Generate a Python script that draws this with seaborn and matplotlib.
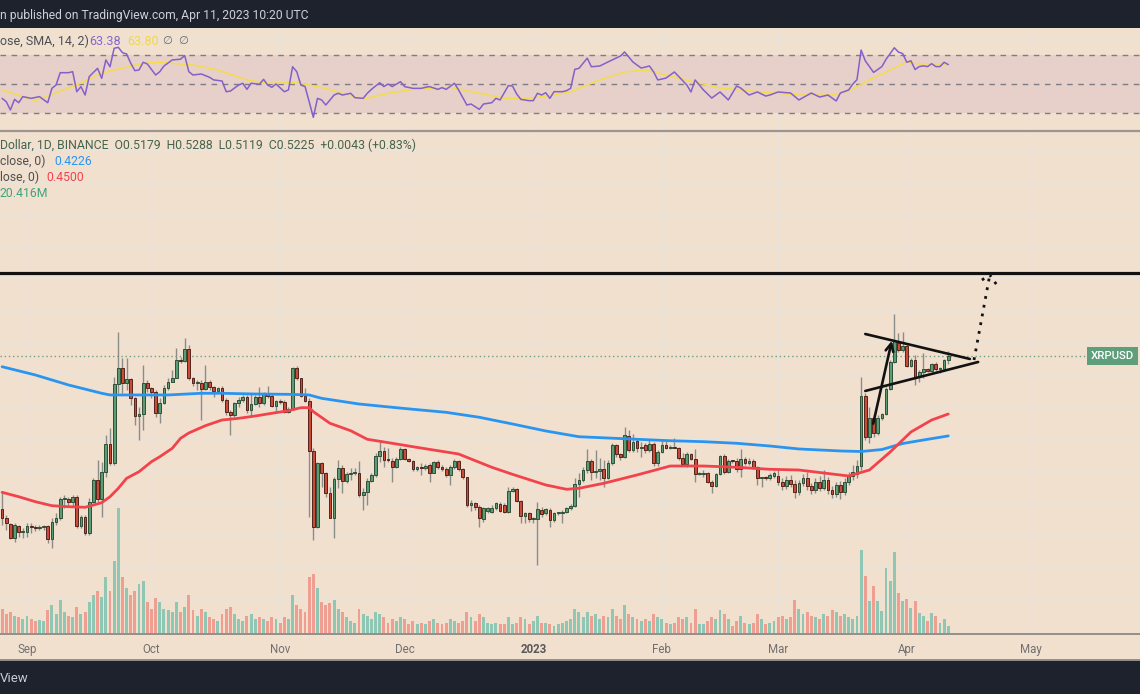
import numpy as np
import pandas as pd
import matplotlib
matplotlib.use("Agg")
import matplotlib.pyplot as plt
import matplotlib.dates as mdates
from matplotlib.lines import Line2D
import seaborn as sns

sns.set_theme(style="white")
plt.rcParams['font.family'] = ['Roboto', 'DejaVu Sans']

# ---------------- data (XRP daily) ----------------
START = "2022-08-26"
opens = [0.3309,0.3196,0.3125,0.2954,0.3104,0.3021,0.3029,0.3104,0.3091,0.3071,0.3091,0.3104,0.2938,0.3154,
 0.3204,0.3434,0.3438,0.3404,0.3466,0.3100,0.3216,0.3009,0.3404,0.3675,0.3438,
 0.3779,0.4125,0.3891,0.4871,0.5071,0.4891,0.4934,0.4704,0.4475,0.4500,
 0.4891,0.4821,0.4779,0.4509,0.4641,0.4821,0.4904,0.4954,0.5175,0.5168,0.5309,0.4954,0.4884,0.4891,0.4813,
 0.4904,0.4834,0.4788,0.4821,0.4675,0.4521,0.4488,0.4634,0.4681,0.4709,0.4550,0.4625,0.4709,0.4634,0.4759,0.4725,0.4604,0.4663,0.4654,0.4521,
 0.4563,0.5071,0.4946,0.4729,0.4666,0.4038,0.3091,0.3884,0.3759,0.3509,0.3204,0.3684,0.3821,0.3663,0.3746,0.3759,0.3766,0.3488,0.3521,0.3663,0.3738,0.3979,0.4041,0.3925,
 0.3916,0.3834,0.3938,0.4059,0.3934,0.3916,0.3815,0.3834,0.3830,0.3863,0.3766,0.3904,0.3834,0.3809,0.3738,0.3834,0.3916,0.3809,0.3709,0.3363,
 0.3391,0.3341,0.3184,0.3291,0.3279,0.3329,0.3375,0.3359,0.3279,0.3541,0.3559,0.3416,0.3229,0.3259,0.3184,0.3188,0.3300,0.3259,0.3300,0.3175,
 0.3259,0.3259,0.3279,0.3321,0.3350,0.3625,
 0.3675,0.3800,0.3913,0.3779,0.3791,0.3809,0.3704,0.3884,0.4113,0.4000,0.3966,0.4225,0.4050,0.4163,0.4071,0.4113,0.4050,0.4121,0.3884,0.4029,0.4113,
 0.4079,0.4091,0.4079,0.3946,0.3871,0.4000,0.3938,0.3750,0.3750,0.3759,0.3654,0.3604,0.3750,0.3975,0.3779,0.3913,0.3909,0.3809,0.3938,0.3884,0.3913,0.3834,0.3704,0.3709,0.3700,0.3725,
 0.3725,0.3650,0.3600,0.3675,0.3625,0.3525,0.3638,0.3700,0.3600,0.3550,0.3650,0.3575,0.3675,0.3550,0.3500,0.3613,0.3525,0.3650,0.3725,0.3750,
 0.3850,0.4729,0.4216,0.4454,0.4266,0.4446,0.4500,0.4809,0.5146,0.5384,0.5300,0.5350,0.5100,0.5175,0.4966,0.5029,0.5059,0.5041,0.5125,0.5059,0.5063,0.5179]
highs = [0.3509,0.3238,0.3141,0.3134,0.3113,0.3071,0.3134,0.3134,0.3113,0.3110,0.3113,0.3113,0.3196,0.3259,
 0.3466,0.3488,0.3466,0.3488,0.3488,0.3238,0.3238,0.3446,0.3696,0.3925,0.3904,
 0.4238,0.4321,0.4966,0.5529,0.5196,0.5196,0.4946,0.4716,0.4591,0.5113,
 0.4925,0.4841,0.4800,0.4696,0.4863,0.4946,0.5050,0.5321,0.5216,0.5446,0.5363,0.4966,0.4925,0.4925,0.5113,
 0.4925,0.4850,0.4841,0.4850,0.4696,0.4550,0.4654,0.4716,0.4738,0.4738,0.4759,0.4738,0.4841,0.4779,0.4850,0.4759,0.4675,0.4691,0.4675,0.4591,
 0.5091,0.5100,0.4954,0.4821,0.4696,0.4071,0.3904,0.3904,0.3779,0.3591,0.3716,0.3925,0.3863,0.3779,0.3821,0.3821,0.3913,0.3571,0.3696,0.3759,0.4009,0.4175,0.4091,0.4071,
 0.3950,0.3963,0.4091,0.4075,0.3950,0.3925,0.3850,0.3888,0.3875,0.3891,0.3913,0.3925,0.3863,0.3834,0.3863,0.3934,0.3925,0.3825,0.3716,0.3425,
 0.3404,0.3363,0.3341,0.3341,0.3363,0.3404,0.3400,0.3384,0.3591,0.3584,0.3571,0.3425,0.3279,0.3279,0.3216,0.3404,0.3341,0.3321,0.3325,0.3279,
 0.3279,0.3300,0.3341,0.3375,0.3700,0.3763,
 0.3834,0.4059,0.3934,0.4050,0.3946,0.3925,0.3925,0.4134,0.4125,0.4016,0.4341,0.4300,0.4246,0.4200,0.4154,0.4134,0.4175,0.4154,0.4050,0.4175,0.4175,
 0.4113,0.4196,0.4091,0.4009,0.4029,0.4016,0.4059,0.3779,0.3800,0.3779,0.3675,0.3766,0.3988,0.4000,0.3934,0.3925,0.3946,0.4059,0.3966,0.3946,0.3934,0.3850,0.3716,0.3725,0.3766,0.3788,
 0.3800,0.3700,0.3725,0.3738,0.3675,0.3675,0.3750,0.3775,0.3638,0.3700,0.3725,0.3800,0.3713,0.3600,0.3650,0.3663,0.3700,0.3775,0.3863,0.3925,
 0.4963,0.4763,0.4591,0.4488,0.4488,0.4513,0.4841,0.5175,0.5750,0.5509,0.5529,0.5384,0.5196,0.5238,0.5050,0.5259,0.5075,0.5134,0.5146,0.5084,0.5184,0.5288]
lows = [0.3113,0.3050,0.2934,0.2904,0.2966,0.2946,0.2966,0.3009,0.3040,0.3050,0.3050,0.2884,0.2821,0.3113,
 0.3175,0.3321,0.3341,0.3341,0.3071,0.3071,0.2988,0.2988,0.3384,0.3404,0.3216,
 0.3716,0.3863,0.3863,0.4759,0.4759,0.4800,0.4613,0.4363,0.4175,0.4300,
 0.4779,0.4696,0.4466,0.4384,0.4625,0.4800,0.4904,0.4946,0.5134,0.5154,0.4925,0.4850,0.4800,0.4425,0.4800,
 0.4800,0.4716,0.4759,0.4654,0.4488,0.4238,0.4466,0.4591,0.4654,0.4509,0.4466,0.4613,0.4591,0.4613,0.4696,0.4584,0.4509,0.4621,0.4509,0.4509,
 0.4550,0.4925,0.4716,0.4654,0.3216,0.2925,0.3071,0.3591,0.3466,0.3196,0.2946,0.3571,0.3509,0.3634,0.3675,0.3738,0.3466,0.3300,0.3363,0.3654,0.3716,0.3904,0.3841,0.3904,
 0.3650,0.3825,0.3925,0.3925,0.3900,0.3791,0.3790,0.3738,0.3800,0.3654,0.3759,0.3813,0.3788,0.3716,0.3613,0.3809,0.3791,0.3684,0.3341,0.3291,
 0.3300,0.3091,0.3154,0.3259,0.3266,0.3300,0.3279,0.3266,0.3266,0.3529,0.3404,0.3134,0.3134,0.3154,0.3134,0.2613,0.3216,0.3238,0.3091,0.3154,
 0.3238,0.3138,0.3259,0.3300,0.3341,0.3466,
 0.3654,0.3759,0.3675,0.3696,0.3675,0.3591,0.3691,0.3863,0.3966,0.3925,0.3946,0.4029,0.4029,0.4029,0.3966,0.4009,0.4029,0.3850,0.3850,0.4009,0.4063,
 0.4063,0.4071,0.3925,0.3850,0.3841,0.3925,0.3654,0.3738,0.3716,0.3641,0.3516,0.3591,0.3738,0.3750,0.3759,0.3888,0.3779,0.3716,0.3863,0.3863,0.3809,0.3613,0.3591,0.3675,0.3675,0.3700,
 0.3613,0.3550,0.3563,0.3588,0.3450,0.3488,0.3600,0.3550,0.3500,0.3513,0.3538,0.3550,0.3500,0.3450,0.3463,0.3438,0.3488,0.3613,0.3675,0.3700,
 0.3800,0.4175,0.4134,0.4216,0.4238,0.4425,0.4488,0.4800,0.5134,0.5279,0.5279,0.5091,0.5084,0.4863,0.4904,0.4946,0.5025,0.5029,0.5041,0.5016,0.5041,0.5119]
closes = [0.3196,0.3134,0.2954,0.3113,0.3021,0.3029,0.3104,0.3091,0.3071,0.3091,0.3095,0.2938,0.3154,0.3204,
 0.3434,0.3438,0.3404,0.3466,0.3100,0.3216,0.3009,0.3404,0.3675,0.3438,0.3779,
 0.4125,0.3891,0.4871,0.5071,0.4891,0.4934,0.4704,0.4475,0.4500,0.4891,
 0.4821,0.4779,0.4509,0.4641,0.4821,0.4904,0.4954,0.5175,0.5168,0.5309,0.4954,0.4884,0.4891,0.4813,0.4904,
 0.4834,0.4788,0.4821,0.4675,0.4521,0.4488,0.4634,0.4675,0.4709,0.4550,0.4625,0.4709,0.4634,0.4759,0.4725,0.4604,0.4663,0.4654,0.4521,0.4563,
 0.5071,0.4946,0.4729,0.4666,0.4038,0.3091,0.3884,0.3759,0.3509,0.3204,0.3684,0.3821,0.3663,0.3746,0.3759,0.3771,0.3488,0.3521,0.3663,0.3738,0.3979,0.4041,0.3925,0.3921,
 0.3834,0.3938,0.4059,0.3934,0.3916,0.3809,0.3834,0.3830,0.3850,0.3766,0.3904,0.3834,0.3809,0.3738,0.3834,0.3916,0.3809,0.3709,0.3363,0.3391,
 0.3341,0.3196,0.3321,0.3321,0.3329,0.3391,0.3291,0.3279,0.3541,0.3559,0.3416,0.3229,0.3259,0.3184,0.3188,0.3309,0.3250,0.3309,0.3175,0.3259,
 0.3263,0.3279,0.3321,0.3350,0.3625,0.3675,
 0.3800,0.3913,0.3779,0.3791,0.3809,0.3704,0.3884,0.4113,0.4000,0.3966,0.4238,0.4050,0.4154,0.4071,0.4088,0.4050,0.4121,0.3884,0.4029,0.4113,0.4079,
 0.4091,0.4079,0.3946,0.3871,0.4000,0.3938,0.3750,0.3759,0.3766,0.3654,0.3604,0.3750,0.3975,0.3779,0.3913,0.3909,0.3809,0.3938,0.3891,0.3913,0.3834,0.3704,0.3709,0.3704,0.3738,0.3763,
 0.3650,0.3600,0.3675,0.3625,0.3525,0.3638,0.3700,0.3600,0.3550,0.3650,0.3575,0.3675,0.3550,0.3500,0.3613,0.3525,0.3650,0.3725,0.3775,0.3850,
 0.4725,0.4216,0.4454,0.4266,0.4446,0.4500,0.4809,0.5146,0.5416,0.5300,0.5350,0.5100,0.5175,0.4966,0.5029,0.5059,0.5041,0.5125,0.5059,0.5063,0.5175,0.5225]
volumes_m = [70,55,60,50,45,40,50,40,35,38,35,65,80,55,
 95,60,50,45,75,55,60,90,110,120,105,
 162,120,206,360,160,130,110,120,140,150,
 90,70,100,90,70,65,60,90,60,75,110,65,50,70,60,
 45,40,35,55,70,75,55,40,35,50,55,40,45,40,35,45,40,30,45,40,
 110,80,70,60,160,170,130,90,80,85,95,70,60,45,35,30,70,55,50,40,60,55,45,30,
 40,35,45,40,25,35,25,30,25,35,40,30,25,30,40,35,30,35,60,45,
 35,55,45,30,25,30,25,25,45,25,30,45,40,25,35,50,30,30,25,20,
 25,30,35,40,70,60,
 45,60,50,55,40,50,45,70,50,40,80,55,45,40,35,40,35,55,45,40,30,
 25,30,45,40,45,30,70,25,25,35,45,40,65,55,40,20,35,50,30,25,30,55,40,25,30,35,
 45,50,40,45,95,70,55,60,50,45,40,55,50,65,60,50,55,45,40,50,
 238,165,93,136,93,64,186,151,232,116,93,99,72,93,58,49,35,58,49,29,41,20.416]

# moving averages (day offset from START, value)
sma200_day = [0,8,16,24,26,32,40,48,53,61,69,74,77,86,94,99,107,115,123,131,139,153,161,169,177,185,192,202,207,212,217,222,228]
sma200_val = [0.5091,0.4988,0.4863,0.4759,0.4738,0.4738,0.4738,0.4759,0.4759,0.4750,0.4746,0.4738,0.4696,0.4625,0.4584,0.4559,
              0.4521,0.4459,0.4375,0.4288,0.4216,0.4184,0.4166,0.4154,0.4134,0.4100,0.4063,0.4038,0.4031,0.4056,0.4131,0.4175,0.4226]
sma50_day = [0,4,8,12,16,20,24,26,28,30,33,36,38,41,43,45,49,53,57,61,65,69,72,74,75,79,84,88,94,99,110,118,123,131,136,139,
             145,153,161,169,177,185,192,200,204,209,214,219,224,228]
sma50_val = [0.3521,0.3466,0.3404,0.3354,0.3341,0.3334,0.3391,0.3466,0.3571,0.3696,0.3779,0.3904,0.3966,0.4071,0.4196,0.4263,
             0.4354,0.4425,0.4446,0.4475,0.4509,0.4541,0.4579,0.4579,0.4529,0.4384,0.4291,0.4184,0.4134,0.4091,0.4000,0.3834,
             0.3746,0.3613,0.3559,0.3571,0.3634,0.3738,0.3850,0.3850,0.3834,0.3809,0.3800,0.3750,0.3725,0.3800,0.4025,0.4275,0.4425,0.4500]

# RSI (14) and its SMA
rsi_day = [0,1,2,3,4,5,7,9,11,12,13,14,16,17,18,19,20,21,23,24,25,26,27,28,29,30,31,32,33,34,35,37,38,39,41,43,44,45,46,48,50,51,53,54,55,
           57,58,59,60,62,63,64,65,66,68,69,70,71,72,73,74,75,76,77,78,80,81,82,84,85,87,88,89,91,92,93,94,96,97,99,101,102,103,105,106,107,
           109,110,112,113,115,116,118,119,120,122,123,124,125,127,128,129,130,131,132,133,135,136,137,138,139,141,142,144,146,149,150,152,
           154,156,157,158,160,162,165,166,167,169,171,173,175,177,178,180,182,184,185,187,190,192,195,197,199,201,202,204,205,206,207,208,
           209,210,211,212,213,214,215,216,217,218,219,220,221,222,223,224,225,226,227,228]
rsi_val = [40.1,37.8,32.1,39.4,37.1,41.3,40.1,41.3,37.1,47.0,49.3,57.8,57.8,58.5,44.7,48.2,42.4,55.1,60.8,53.9,66.6,61.9,74.6,75.3,71.6,
           70.7,64.3,59.2,59.7,65.0,63.8,56.2,58.5,62.4,66.6,67.1,69.6,58.5,56.2,56.9,54.6,52.8,52.1,44.7,45.1,
           49.3,50.5,46.3,50.5,49.8,53.2,49.3,47.7,50.0,44.7,45.9,61.9,58.5,49.3,48.2,37.8,27.0,40.1,39.0,35.5,42.4,43.6,42.4,43.6,40.6,
           40.1,43.6,46.3,50.9,48.2,50.0,48.2,51.6,48.2,47.0,47.0,47.7,48.2,46.3,47.5,46.3,
           50.5,45.9,35.5,36.2,32.5,36.2,37.1,40.1,39.0,48.9,48.6,43.1,39.4,38.5,38.5,43.6,42.4,44.0,40.1,44.7,44.7,45.4,47.0,60.1,60.8,
           67.8,61.9,62.4,65.2,69.3,72.1,65.2,
           61.0,62.4,58.3,52.8,54.1,58.3,49.3,44.5,52.8,45.9,40.3,44.5,39.0,48.6,47.2,42.4,44.5,41.7,42.4,44.5,43.8,39.0,43.8,41.0,42.4,
           38.3,43.8,45.9,50.0,53.0,73.4,66.0,
           62.0,58.0,60.0,62.0,67.0,71.0,75.0,72.0,71.0,65.0,66.0,60.0,62.0,62.5,62.0,64.0,62.0,62.0,65.0,63.38]
rsi_sma_day = [0,8,18,24,34,38,46,52,59,64,71,78,82,87,93,99,108,115,121,127,133,137,144,150,155,163,173,183,192,200,204,209,214,218,221,228]
rsi_sma_val = [45.9,38.5,49.3,57.6,64.3,65.0,63.1,59.7,52.8,50.5,50.9,47.0,43.6,39.4,43.6,46.3,47.7,43.6,40.1,40.1,42.4,44.7,52.8,
               58.3,59.7,54.1,47.2,44.5,42.4,42.4,45.2,52.8,59.7,65.2,63.8,63.8]

# drawn annotations (day offset, price)
resistance_level = 0.626
upper_tl = ([208.0, 233.2], [0.5500, 0.5188])
lower_tl = ([208.0, 235.2], [0.4788, 0.5150])
pole = ([209.9, 214.4], [0.4379, 0.5416])
projection = ([234.2, 238.0], [0.5175, 0.6238])
proj_wings = ([236.1, 238.0, 239.7], [0.6175, 0.6238, 0.6113])

month_labels = ["Sep", "Oct", "Nov", "Dec", "2023", "Feb", "Mar", "Apr", "May"]
last_price = closes[-1]

# ---------------- figure ----------------
W, H = 1140, 694
BG = '#F2E0CF'
DARK = '#1E222D'
GRID = '#EAE3DC'
fig = plt.figure(figsize=(W / 100, H / 100), dpi=100)
fig.patch.set_facecolor(BG)

def rect(top, bottom):
    return [0, 1 - bottom / H, 1, (bottom - top) / H]

day0 = mdates.date2num(pd.Timestamp(START))
n = len(closes)
dates = pd.date_range(START, periods=n, freq="D")
x = mdates.date2num(dates)
xlim = (day0 - 0.506, day0 + 274.2)
months = mdates.date2num(pd.date_range("2022-09-01", "2023-05-01", freq="MS"))

# top & bottom dark bars
ax_top = fig.add_axes(rect(0, 28))
ax_top.add_patch(plt.Rectangle((0, 0), 1, 1, color=DARK, transform=ax_top.transAxes))
ax_top.set_axis_off()
ax_bot = fig.add_axes(rect(660, 694))
ax_bot.add_patch(plt.Rectangle((0, 0), 1, 1, color=DARK, transform=ax_bot.transAxes))
ax_bot.set_axis_off()

# RSI pane
ax_r = fig.add_axes(rect(28, 130))
ax_r.set_facecolor(BG)
ax_r.set_xlim(*xlim)
ax_r.set_ylim(18.28, 88.62)
for m in months:
    ax_r.axvline(m, color=GRID, lw=1, zorder=0)
for lv in (40, 60, 80):
    ax_r.axhline(lv, color=GRID, lw=1, zorder=0)
ax_r.axhspan(30, 70, color='#E7D0CA', zorder=0.5, lw=0)
for lv in (70, 50, 30):
    ax_r.axhline(lv, color='#7E7C84', lw=1, ls=(0, (4, 4)), zorder=1)
sns.lineplot(x=day0 + np.array(rsi_sma_day), y=rsi_sma_val, ax=ax_r, color='#F4DC4C', lw=1.1, zorder=2)
sns.lineplot(x=day0 + np.array(rsi_day), y=rsi_val, ax=ax_r, color='#8460C8', lw=1.1, zorder=3)
ax_r.set_xticks([]); ax_r.set_yticks([])
ax_r.set_xlabel(""); ax_r.set_ylabel("")
for s in ax_r.spines.values():
    s.set_visible(False)

# main pane
ax = fig.add_axes(rect(131, 633))
ax.set_facecolor(BG)
ax.set_xlim(*xlim)
ax.set_ylim(0.17625, 0.80375)
for m in months:
    ax.axvline(m, color=GRID, lw=1, zorder=0)
for lv in np.arange(0.22, 0.80, 0.04):
    ax.axhline(lv, color=GRID, lw=1, zorder=0)

o = np.array(opens); c = np.array(closes); hi = np.array(highs); lo = np.array(lows)
up = c >= o
ax.vlines(x, lo, hi, colors='#8A8C88', lw=1.0, zorder=2)
body_bottom = np.minimum(o, c)
body_h = np.maximum(np.abs(c - o), 0.0012)
ax.bar(x[up], body_h[up], bottom=body_bottom[up], width=0.66, color='#5B9C74', edgecolor='#2E4F38', linewidth=0.7, zorder=3)
ax.bar(x[~up], body_h[~up], bottom=body_bottom[~up], width=0.66, color='#C94B38', edgecolor='#55231A', linewidth=0.7, zorder=3)

sns.lineplot(x=day0 + np.array(sma200_day), y=sma200_val, ax=ax, color='#2A95F0', lw=2.0, zorder=4)
sns.lineplot(x=day0 + np.array(sma50_day), y=sma50_val, ax=ax, color='#F2434C', lw=2.0, zorder=4)

# last price dotted line & label
ax.axhline(last_price, xmin=0, xmax=1086 / W, color='#6E9F84', lw=1, ls=(0, (1, 2)), zorder=1)
ax.annotate("XRPUSD", xy=(1134 / W, last_price), xycoords=('axes fraction', 'data'),
            ha='right', va='center', color='white', fontsize=8.2, fontweight='medium',
            bbox=dict(boxstyle='square,pad=0.32', fc='#5E9E7A', ec='none'), zorder=6)

# drawings
ink = '#121212'
ax.axhline(resistance_level, color=ink, lw=2.3, zorder=5)
ax.plot(day0 + np.array(upper_tl[0]), upper_tl[1], color=ink, lw=1.9, zorder=5, solid_capstyle='round')
ax.plot(day0 + np.array(lower_tl[0]), lower_tl[1], color=ink, lw=1.9, zorder=5, solid_capstyle='round')
ax.annotate('', xy=(day0 + pole[0][1], pole[1][1]), xytext=(day0 + pole[0][0], pole[1][0]),
            arrowprops=dict(arrowstyle='->', color=ink, lw=1.9, mutation_scale=14, shrinkA=0, shrinkB=0), zorder=5)
ax.plot(day0 + np.array(projection[0]), projection[1], color=ink, lw=2.0, ls=(0, (1, 2.2)), zorder=5)
ax.plot(day0 + np.array(proj_wings[0]), proj_wings[1], color=ink, lw=2.0, ls=(0, (1, 2.2)), zorder=5)

ax.set_xticks(months)
ax.set_xticklabels(month_labels)
ax.tick_params(axis='x', length=0, pad=7, labelsize=8.3, labelcolor='#707070')
for lab in ax.get_xticklabels():
    lab.set_family(['Liberation Sans Narrow', 'Roboto', 'DejaVu Sans'])
    if lab.get_text() == "2023":
        lab.set_fontweight('bold')
        lab.set_color('#5A5A5A')
ax.set_yticks([])
ax.set_xlabel(""); ax.set_ylabel("")
for s in ax.spines.values():
    s.set_visible(False)

# volume overlay
ax_v = ax.twinx()
ax_v.set_ylim(0, 1446)
vol = np.array(volumes_m)
ax_v.bar(x[up], vol[up], width=0.7, color='#8FC7B4', lw=0, zorder=1)
ax_v.bar(x[~up], vol[~up], width=0.7, color='#EF9F91', lw=0, zorder=1)
ax_v.set_yticks([]); ax_v.set_ylabel("")
for s in ax_v.spines.values():
    s.set_visible(False)

# pane separators
for yy, col, lw in ((130.5, '#9C9590', 1.6), (633.8, '#948E89', 1.4), (659.5, '#948E89', 1.4)):
    fig.add_artist(Line2D([0, 1], [1 - yy / H, 1 - yy / H], transform=fig.transFigure, color=col, lw=lw))

# texts
def ftext(px, py, s, **kw):
    fig.text(px / W, 1 - py / H, s, va='center', ha='left', **kw)

ftext(0, 15, "n published on TradingView.com, Apr 11, 2023 10:20 UTC", color='#CDD0D7', fontsize=8.7)
ftext(0, 678, "View", color='#C9CCD3', fontsize=9.5, family=['Liberation Sans Narrow', 'Roboto', 'DejaVu Sans'])

ftext(0, 41.5, "ose, SMA, 14, 2)", color='#4F4F4F', fontsize=9.0)
ftext(89, 41.5, "63.38", color='#8A63CC', fontsize=9.0)
ftext(127, 41.5, "63.80", color='#F2D64B', fontsize=9.0)
ftext(162, 41.5, "\u2205", color='#6A6A6A', fontsize=8.2, family=['DejaVu Sans'])
ftext(178, 41.5, "\u2205", color='#6A6A6A', fontsize=8.2, family=['DejaVu Sans'])

ftext(0, 145, "Dollar, 1D, BINANCE  O0.5179  H0.5288  L0.5119  C0.5225  +0.0043 (+0.83%)", color='#45644E', fontsize=8.85)
ftext(0, 161.5, "close, 0)", color='#4F4F4F', fontsize=8.85)
ftext(54, 161.5, "0.4226", color='#2A95F0', fontsize=8.85)
ftext(0, 177.5, "lose, 0)", color='#4F4F4F', fontsize=8.85)
ftext(46.5, 177.5, "0.4500", color='#F2434C', fontsize=8.85)
ftext(0, 193.3, "20.416M", color='#3FA47C', fontsize=8.85)

fig.savefig("out.png", dpi=100, facecolor=BG)
